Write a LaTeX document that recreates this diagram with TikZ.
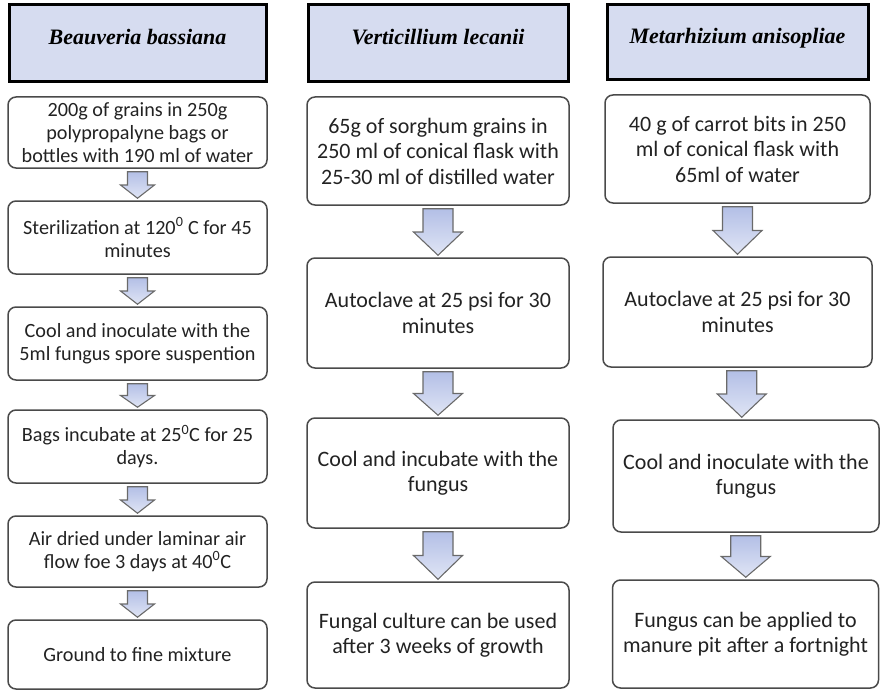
\documentclass[tikz,border=0pt]{standalone}
\usepackage{fontspec}
\setmainfont{Carlito}
\newfontfamily\headfont{Liberation Serif}
\usepackage{tikz}
\usetikzlibrary{calc}
\definecolor{headfill}{HTML}{D6DCF0}
\definecolor{boxline}{HTML}{4A4A4A}
\definecolor{arrowtop}{HTML}{B3BFE6}
\definecolor{arrowbot}{HTML}{E0E5F5}
\definecolor{arrowline}{HTML}{6A6A6A}
\definecolor{textgray}{HTML}{222222}
\tikzset{
  header/.style={draw=black, line width=3pt, fill=headfill, inner sep=0pt,
    text height=14pt, text depth=12pt,
    font=\headfont\bfseries\itshape\fontsize{22}{26}\selectfont},
  stepbox/.style={draw=boxline, line width=1.5pt, rounded corners=8pt, inner sep=0pt,
    align=center, text=textgray},
  small/.style={font=\fontsize{20.2}{23}\selectfont},
  large/.style={font=\fontsize{22}{25.5}\selectfont},
  fat/.style={draw=arrowline, line width=1.1pt, line join=miter,
    top color=arrowtop, bottom color=arrowbot}
}
% block arrow: source, target, half shaft width, half head width
\newcommand{\fatarrow}[4]{%
  \draw[fat] let \p1=(#1.south), \p2=(#2.north),
    \n1={0.5*(\x1+\x2)}, \n2={\y1-3pt}, \n3={\y2+2pt}, \n4={0.5*(\n2+\n3)} in
    (\n1-#3,\n2) -- (\n1+#3,\n2) -- (\n1+#3,\n4) -- (\n1+#4,\n4) -- (\n1,\n3)
    -- (\n1-#4,\n4) -- (\n1-#3,\n4) -- cycle;}

\begin{document}
\begin{tikzpicture}[x=1pt,y=-1pt]
\useasboundingbox (0,0) rectangle (880,690);
%headers
\node[header, minimum width=257, minimum height=77] (hb) at (137.5,43.5) {Beauveria bassiana};
\node[header, minimum width=260, minimum height=77] (hv) at (438,43.5) {Verticillium lecanii};
\node[header, minimum width=261, minimum height=75] (hm) at (737.5,42.5) {Metarhizium anisopliae};
%Beauveria bassiana
\node[stepbox, small, minimum width=259, minimum height=71] (b1) at (137.5,132.5)
  {200g of grains in 250g\\ polypropalyne bags or\\ bottles with 190 ml of water};
\node[stepbox, small, minimum width=259, minimum height=73] (b2) at (137.5,237.5)
  {Sterilization at 120\textsuperscript{0} C for 45\\ minutes};
\node[stepbox, small, minimum width=259, minimum height=73] (b3) at (137.5,343.5)
  {Cool and inoculate with the\\ 5ml fungus spore suspention};
\node[stepbox, small, minimum width=259, minimum height=73] (b4) at (137.5,446.5)
  {Bags incubate at 25\textsuperscript{0}C for 25\\ days.};
\node[stepbox, small, minimum width=259, minimum height=71] (b5) at (137.5,551.5)
  {Air dried under laminar air\\ flow foe 3 days at 40\textsuperscript{0}C};
\node[stepbox, small, minimum width=259, minimum height=69] (b6) at (137.5,654.5)
  {Ground to fine mixture};
%Verticillium lecanii
\node[stepbox, large, minimum width=262, minimum height=108] (v1) at (438,151)
  {65g of sorghum grains in\\ 250 ml of conical flask with\\ 25-30 ml of distilled water};
\node[stepbox, large, minimum width=262, minimum height=110] (v2) at (438,313)
  {Autoclave at 25 psi for 30\\ minutes};
\node[stepbox, large, minimum width=262, minimum height=110] (v3) at (438,473)
  {Cool and incubate with the\\ fungus};
\node[stepbox, large, minimum width=262, minimum height=106] (v4) at (438,635)
  {Fungal culture can be used\\ after 3 weeks of growth};
%Metarhizium anisopliae
\node[stepbox, large, minimum width=265, minimum height=108] (m1) at (737.5,149)
  {40 g of carrot bits in 250\\ ml of conical flask with\\ 65ml of water};
\node[stepbox, large, minimum width=269, minimum height=110] (m2) at (737.5,312)
  {Autoclave at 25 psi for 30\\ minutes};
\node[stepbox, large, minimum width=266, minimum height=112] (m3) at (746,476)
  {Cool and inoculate with the\\ fungus};
\node[stepbox, large, minimum width=266, minimum height=108] (m4) at (745.5,634)
  {Fungus can be applied to\\ manure pit after a fortnight};
%arrows
\fatarrow{b1}{b2}{10pt}{17pt}
\fatarrow{b2}{b3}{10pt}{17pt}
\fatarrow{b3}{b4}{10pt}{17pt}
\fatarrow{b4}{b5}{10pt}{17pt}
\fatarrow{b5}{b6}{10pt}{17pt}
\fatarrow{v1}{v2}{15pt}{24.5pt}
\fatarrow{v2}{v3}{15pt}{24.5pt}
\fatarrow{v3}{v4}{15pt}{24.5pt}
\fatarrow{m1}{m2}{15pt}{24.5pt}
\fatarrow{m2}{m3}{15pt}{24.5pt}
\fatarrow{m3}{m4}{15pt}{24.5pt}
\end{tikzpicture}
\end{document}
